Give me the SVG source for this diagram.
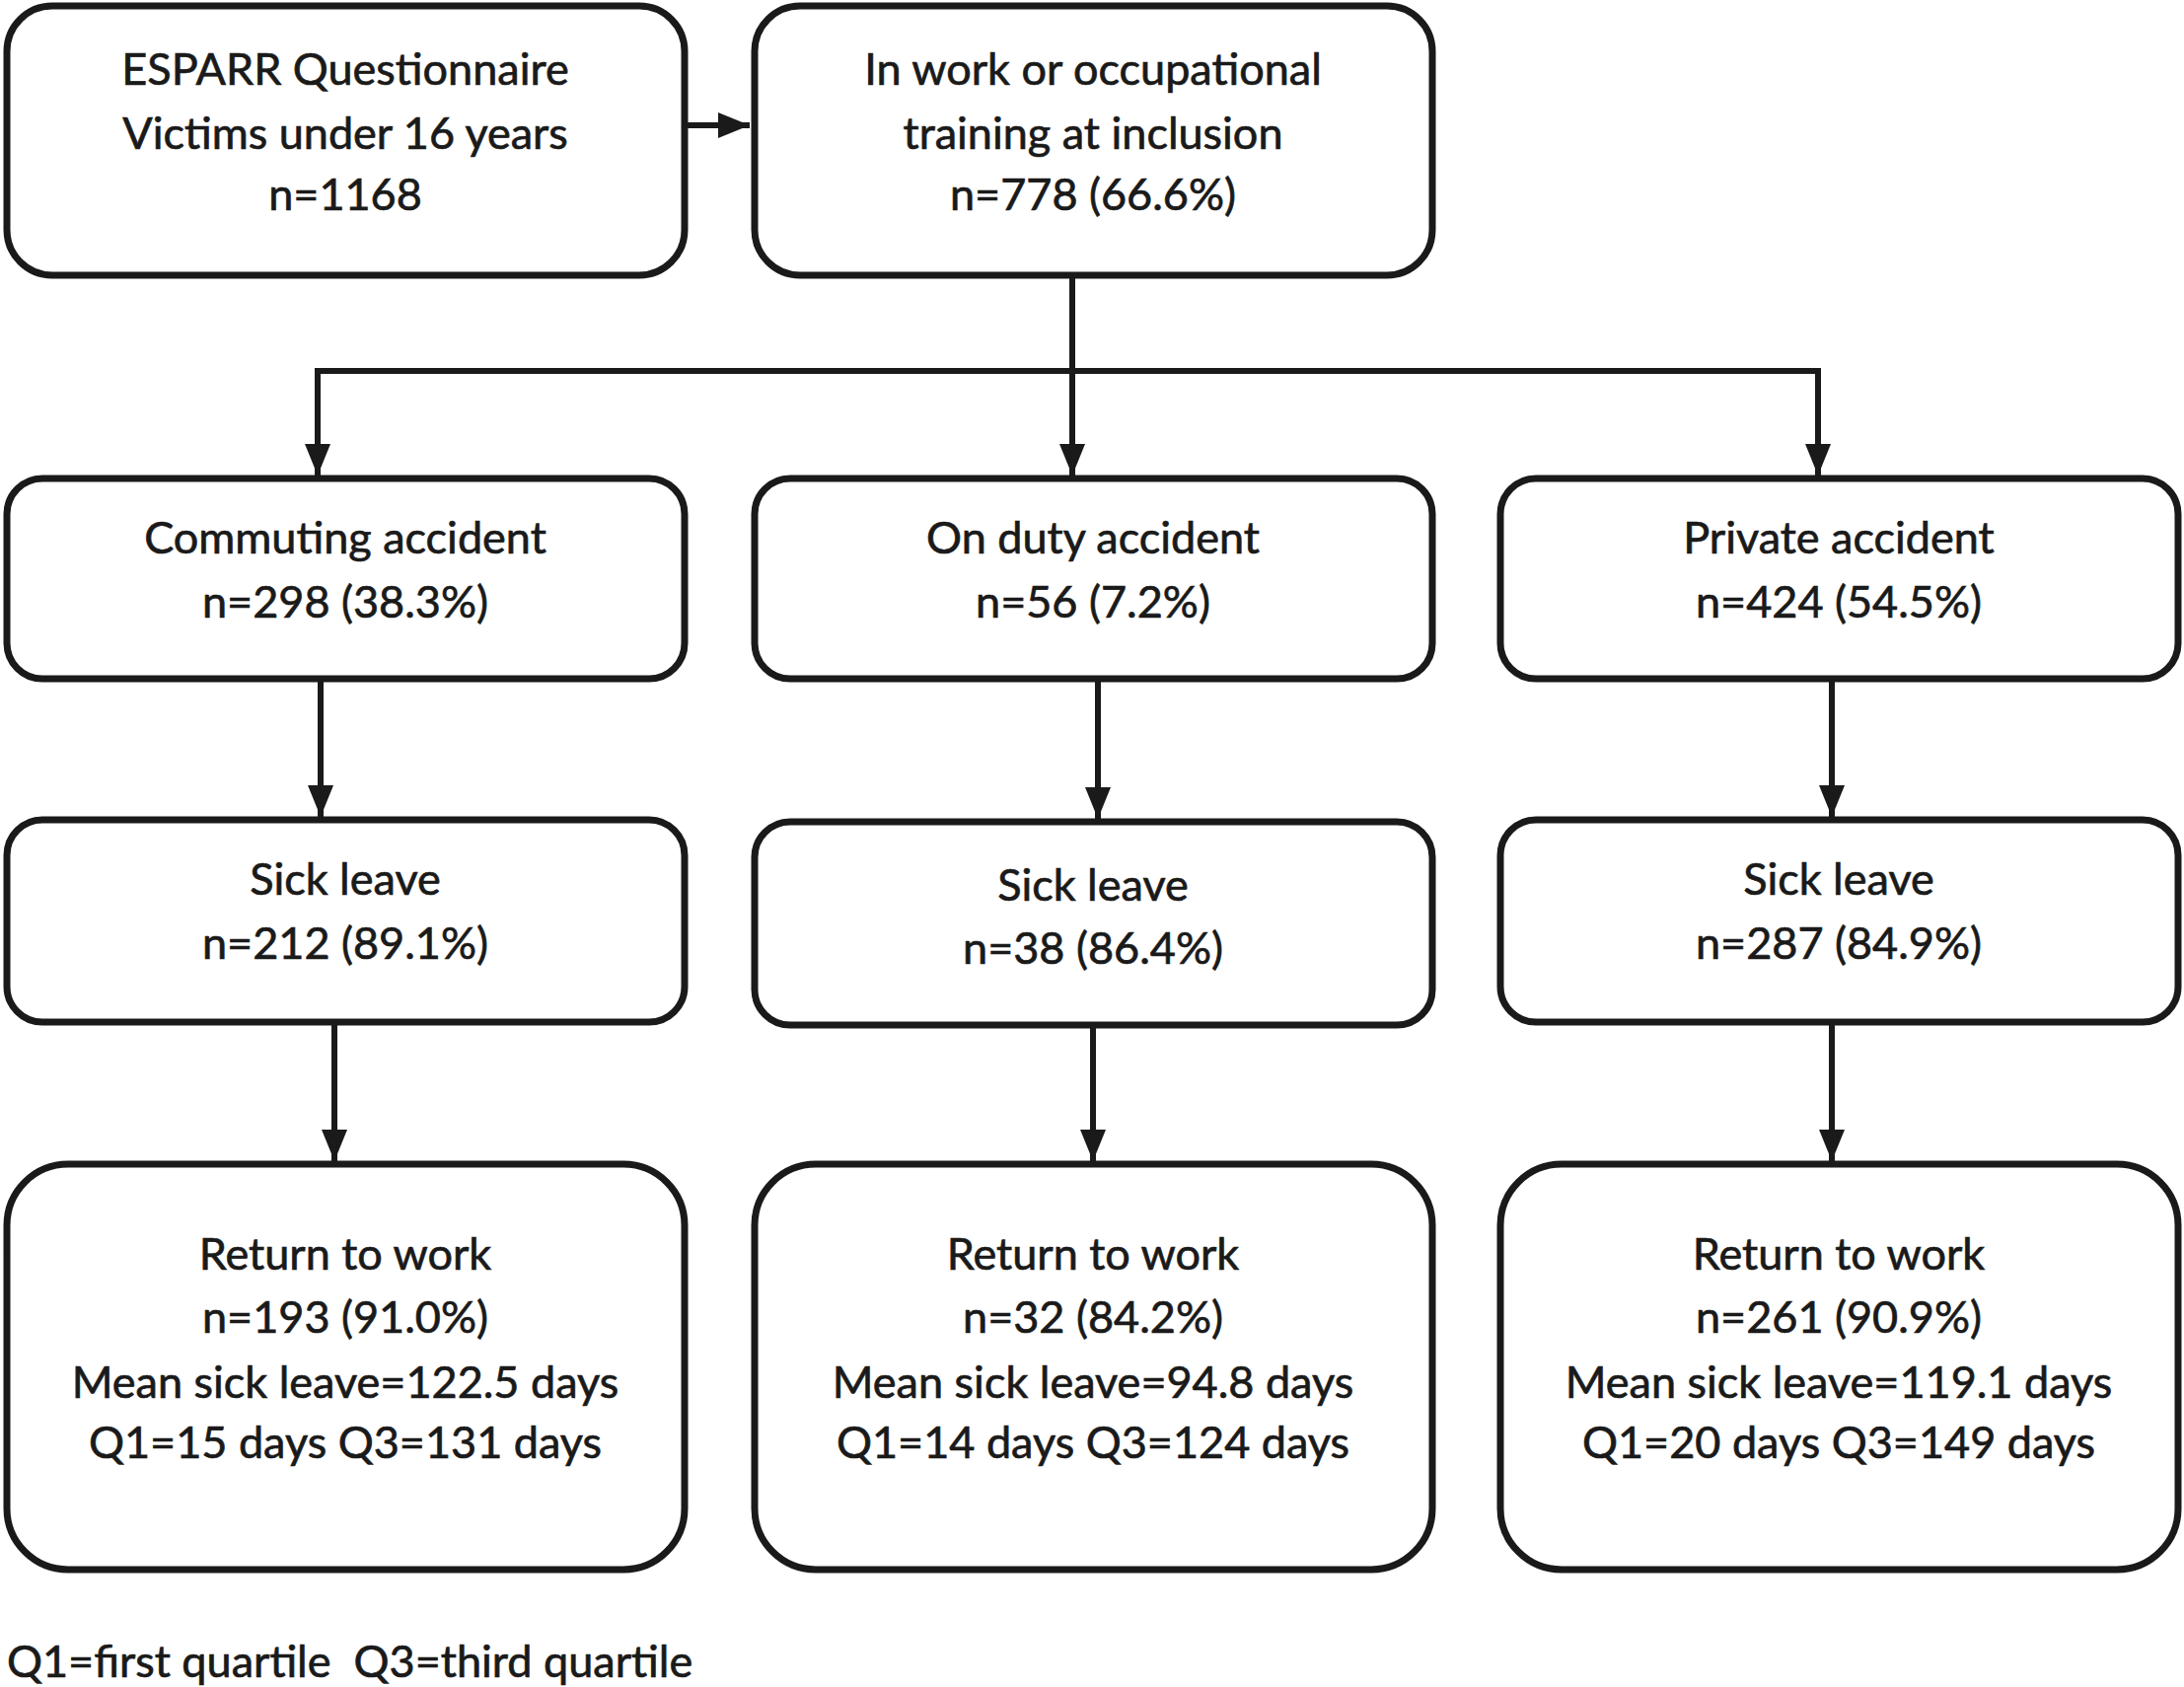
<svg xmlns="http://www.w3.org/2000/svg" width="2214" height="1710" viewBox="0 0 2214 1710">
<style>
.box{fill:#fff;stroke:#1a1a1a;stroke-width:7}
.t{font-family:Lato,"Open Sans","Liberation Sans",sans-serif;font-size:45px;fill:#1a1a1a;stroke:#1a1a1a;stroke-width:0.7;text-anchor:middle}
.c{fill:none;stroke:#1a1a1a;stroke-width:6}
</style>
<defs>
<marker id="ah" markerUnits="userSpaceOnUse" markerWidth="34" markerHeight="28" refX="32" refY="14" orient="auto">
<path d="M0,1 L32,14 L0,27 Z" fill="#1a1a1a"/>
</marker>
</defs>
<rect width="2214" height="1710" fill="#fff"/>
<g id="connectors">
<line class="c" x1="696" y1="127" x2="760" y2="127" marker-end="url(#ah)"/>
<line class="c" x1="1087" y1="280" x2="1087" y2="482" marker-end="url(#ah)"/>
<polyline class="c" points="1087,376 322,376 322,482" marker-end="url(#ah)"/>
<polyline class="c" points="1087,376 1843,376 1843,482" marker-end="url(#ah)"/>
<line class="c" x1="325" y1="689" x2="325" y2="828" marker-end="url(#ah)"/>
<line class="c" x1="1113" y1="689" x2="1113" y2="830" marker-end="url(#ah)"/>
<line class="c" x1="1857" y1="689" x2="1857" y2="828" marker-end="url(#ah)"/>
<line class="c" x1="339" y1="1038" x2="339" y2="1177" marker-end="url(#ah)"/>
<line class="c" x1="1108" y1="1040" x2="1108" y2="1177" marker-end="url(#ah)"/>
<line class="c" x1="1857" y1="1038" x2="1857" y2="1177" marker-end="url(#ah)"/>
</g>
<g id="n1"><rect class="box" x="7" y="6" width="687" height="273" rx="46"/>
<text class="t" x="350" y="86">ESPARR Questionnaire</text><text class="t" x="350" y="151">Victims under 16 years</text><text class="t" x="350" y="213">n=1168</text></g>
<g id="n2"><rect class="box" x="765" y="6" width="687" height="273" rx="46"/>
<text class="t" x="1108" y="86">In work or occupational</text><text class="t" x="1108" y="151">training at inclusion</text><text class="t" x="1108" y="213">n=778 (66.6%)</text></g>
<g id="n3"><rect class="box" x="7" y="485" width="687" height="203" rx="36"/>
<text class="t" x="350" y="561">Commuting accident</text><text class="t" x="350" y="626">n=298 (38.3%)</text></g>
<g id="n4"><rect class="box" x="765" y="485" width="687" height="203" rx="36"/>
<text class="t" x="1108" y="561">On duty accident</text><text class="t" x="1108" y="626">n=56 (7.2%)</text></g>
<g id="n5"><rect class="box" x="1521" y="485" width="687" height="203" rx="36"/>
<text class="t" x="1864" y="561">Private accident</text><text class="t" x="1864" y="626">n=424 (54.5%)</text></g>
<g id="n6"><rect class="box" x="7" y="831" width="687" height="205" rx="36"/>
<text class="t" x="350" y="907">Sick leave</text><text class="t" x="350" y="972">n=212 (89.1%)</text></g>
<g id="n7"><rect class="box" x="765" y="833" width="687" height="206" rx="36"/>
<text class="t" x="1108" y="913">Sick leave</text><text class="t" x="1108" y="977">n=38 (86.4%)</text></g>
<g id="n8"><rect class="box" x="1521" y="831" width="687" height="205" rx="36"/>
<text class="t" x="1864" y="907">Sick leave</text><text class="t" x="1864" y="972">n=287 (84.9%)</text></g>
<g id="n9"><rect class="box" x="7" y="1180" width="687" height="411" rx="62"/>
<text class="t" x="350" y="1287">Return to work</text><text class="t" x="350" y="1351">n=193 (91.0%)</text><text class="t" x="350" y="1417">Mean sick leave=122.5 days</text><text class="t" x="350" y="1478">Q1=15 days Q3=131 days</text></g>
<g id="n10"><rect class="box" x="765" y="1180" width="687" height="411" rx="62"/>
<text class="t" x="1108" y="1287">Return to work</text><text class="t" x="1108" y="1351">n=32 (84.2%)</text><text class="t" x="1108" y="1417">Mean sick leave=94.8 days</text><text class="t" x="1108" y="1478">Q1=14 days Q3=124 days</text></g>
<g id="n11"><rect class="box" x="1521" y="1180" width="687" height="411" rx="62"/>
<text class="t" x="1864" y="1287">Return to work</text><text class="t" x="1864" y="1351">n=261 (90.9%)</text><text class="t" x="1864" y="1417">Mean sick leave=119.1 days</text><text class="t" x="1864" y="1478">Q1=20 days Q3=149 days</text></g>
<text class="t" x="7" y="1700" style="text-anchor:start" xml:space="preserve">Q1=first quartile  Q3=third quartile</text>
</svg>
